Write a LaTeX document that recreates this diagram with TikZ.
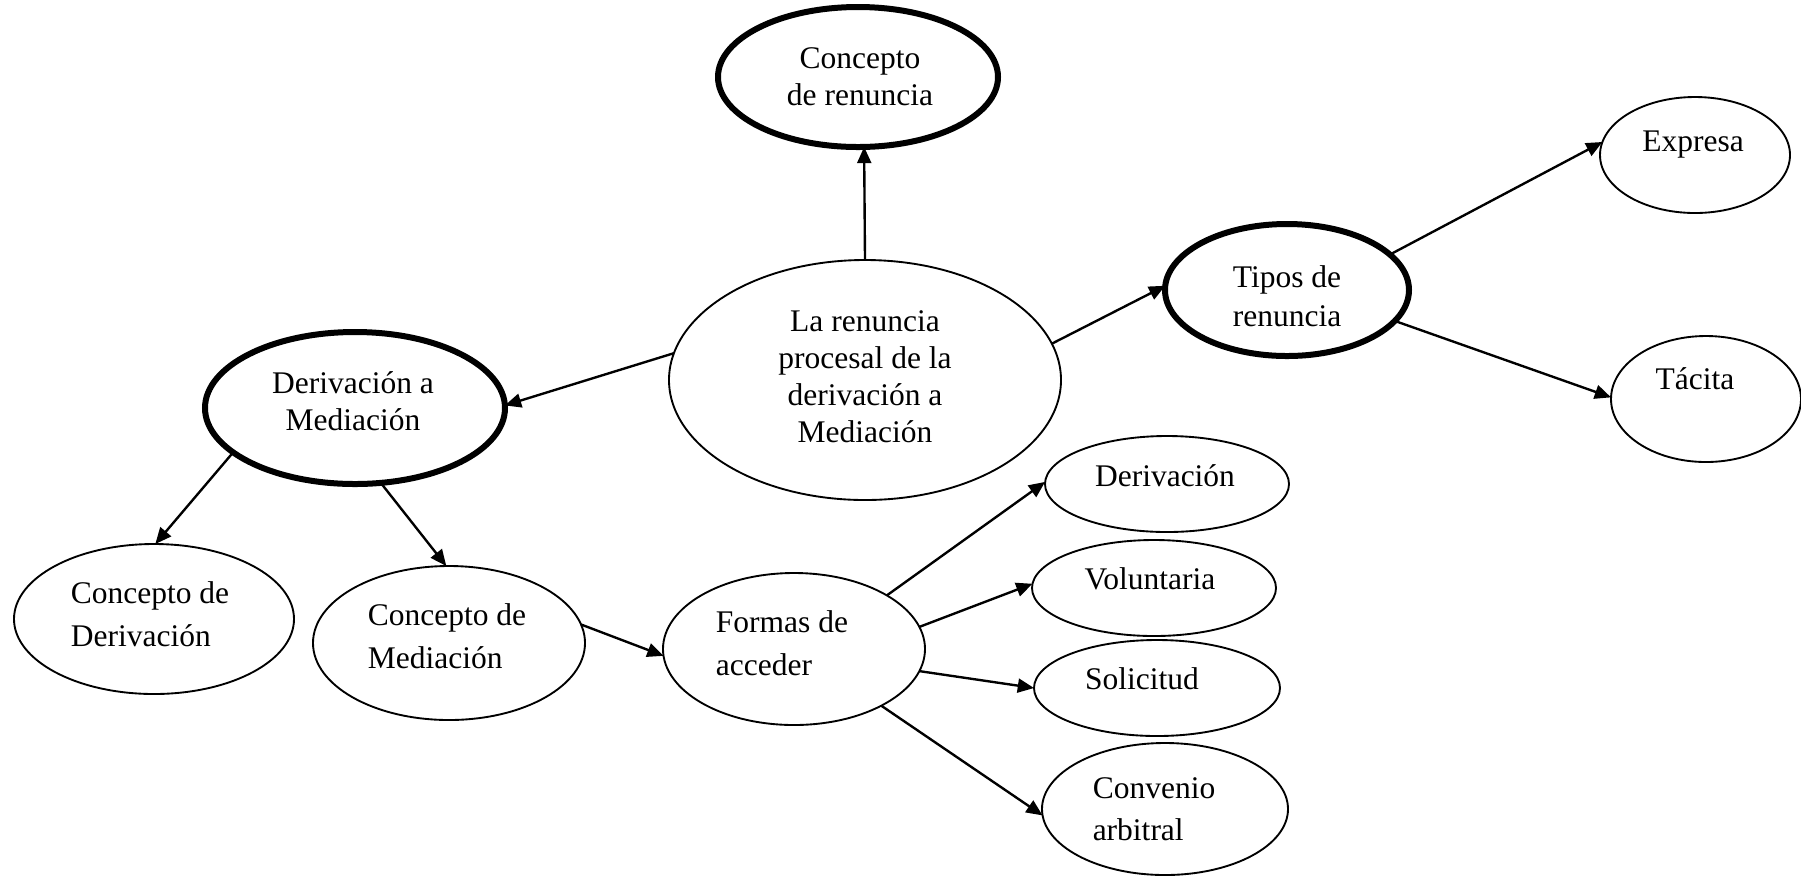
\documentclass[tikz,border=0pt]{standalone}
\usepackage{fontspec}
\setmainfont{Liberation Serif}
\usetikzlibrary{shapes.geometric,arrows.meta}
\tikzset{
 ell/.style 2 args={ellipse, draw, line width=0.75pt, minimum width=#1*0.8pt, minimum height=#2*0.8pt, inner sep=0pt, outer sep=0pt},
 bold/.style={line width=2.4pt},
 txt/.style={font=\fontsize{12.6pt}{14.8pt}\selectfont, align=center, inner sep=0pt},
 conn/.style={line width=0.95pt, -{Triangle[length=6.5pt,width=5.6pt]}}
}
\begin{document}
\begin{tikzpicture}[x=0.4pt,y=-0.4pt]
\useasboundingbox (0,0) rectangle (1801,876);
\node[ell={140}{70},bold,label={[txt,xshift=0.8pt]center:{Concepto\\de renuncia}}] (cr) at (858,77) {};
\node[ell={196}{120},label={[txt,yshift=1.2pt]center:{La renuncia\\procesal de la\\derivación a\\Mediación}}] (big) at (865,380) {};
\node[ell={150}{76},bold,label={[txt,xshift=-0.8pt,yshift=2.8pt]center:{Derivación a\\Mediación}}] (dm) at (355,408) {};
\node[ell={122}{66},bold,label={[txt,yshift=-2.4pt]center:{Tipos de\\[0.8pt]renuncia}}] (tr) at (1287,290) {};
\node[ell={95}{58},label={[txt,xshift=-0.8pt,yshift=4pt]center:Expresa}] (ex) at (1695,155) {};
\node[ell={95}{63},label={[txt,xshift=-4.4pt,yshift=8pt]center:Tácita}] (ta) at (1706,399) {};
\node[ell={140}{75},label={[txt,align=left,xshift=-1.6pt,yshift=2pt]center:{Concepto de\\[2.4pt]Derivación}}] (cd) at (154,619) {};
\node[ell={136}{77},label={[txt,align=left,xshift=-0.8pt,yshift=2.8pt]center:{Concepto de\\[2.4pt]Mediación}}] (cm) at (449,643) {};
\node[ell={131}{76},label={[txt,align=left,xshift=-4.8pt,yshift=2.4pt]center:{Formas de\\[2.4pt]acceder}}] (fa) at (794,649) {};
\node[ell={122}{48},label={[txt,xshift=-0.8pt,yshift=3.2pt]center:Derivación}] (dv) at (1167,484) {};
\node[ell={122}{48},label={[txt,xshift=-1.6pt,yshift=3.6pt]center:Voluntaria}] (vo) at (1154,588) {};
\node[ell={123}{48},label={[txt,xshift=-6pt,yshift=3.6pt]center:Solicitud}] (so) at (1157,688) {};
\node[ell={123}{66},label={[txt,align=left,xshift=-4.4pt]center:{Convenio\\[2pt]arbitral}}] (ca) at (1165,809) {};
\draw[conn] (big.90) -- (cr.-85);
\draw[conn] (big.172) -- (dm.1);
\draw[conn] (big.11) -- (tr.178);
\draw[conn] (tr.19) -- (ex.172);
\draw[conn] (tr.-16) -- (ta.179);
\draw[conn] (dm.200) -- (cd.89);
\draw[conn] (dm.-71) -- (cm.92);
\draw[conn] (cm.8) -- (fa.183);
\draw[conn] (fa.30) -- (dv.179);
\draw[conn] (fa.10) -- (vo.178);
\draw[conn] (fa.-10) -- (so.180);
\draw[conn] (fa.-33) -- (ca.183);
\end{tikzpicture}
\end{document}
